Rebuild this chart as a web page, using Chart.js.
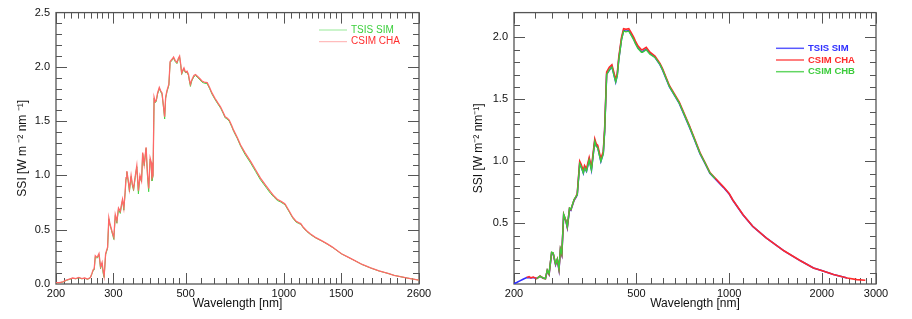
<!DOCTYPE html>
<html>
<head>
<meta charset="utf-8">
<script src="https://cdn.jsdelivr.net/npm/chart.js@4/dist/chart.umd.min.js"></script>
<style>
  body { margin: 0; background: #fff; }
  #wrap { display: flex; width: 912px; height: 319px; }
  canvas { display: block; }
</style>
</head>
<body>
<div id="wrap">
  <canvas id="leftChart" width="456" height="319"></canvas>
  <canvas id="rightChart" width="456" height="319"></canvas>
</div>
<script>
// ---- left panel data (TSIS SIM vs CSIM CHA) ----
const leftWavelength = [200, 205, 210, 215, 220, 225, 230, 235, 240, 245, 250, 255, 258, 260, 262, 264, 266, 268, 271, 274,
  277, 279, 281, 284, 288, 290.5, 293, 295, 298, 301, 304, 307.5, 311, 315, 318, 320, 323, 326, 328, 330,
  333, 336, 340, 343, 346, 350, 354, 358, 362, 366, 369, 373, 378, 382, 385, 389, 392, 394, 397, 400,
  403, 406, 410, 415, 419, 423, 427, 431, 434, 438, 444, 448, 454, 459, 464, 470, 475, 479, 483, 486,
  490, 494, 498, 501, 505, 510, 514, 517, 522, 530, 536, 545, 553, 561, 570, 582, 592, 602, 615, 627,
  640, 652, 661, 670, 680, 692, 702, 720, 737, 760, 791, 820, 848, 885, 910, 933, 955, 978, 1000, 1010,
  1040, 1065, 1089, 1110, 1127, 1150, 1175, 1208, 1250, 1306, 1360, 1410, 1503, 1570, 1647, 1740, 1848, 1960, 2089, 2180,
  2281, 2400, 2496, 2600];
const leftCha = [0.012, 0.013, 0.02, 0.035, 0.045, 0.055, 0.05, 0.06, 0.05, 0.055, 0.045, 0.06, 0.10, 0.13, 0.14, 0.26, 0.25, 0.25, 0.28, 0.16,
  0.20, 0.12, 0.07, 0.28, 0.34, 0.61, 0.55, 0.52, 0.47, 0.43, 0.64, 0.58, 0.70, 0.67, 0.74, 0.78, 0.70, 0.85, 0.98, 1.04,
  0.96, 0.87, 1.00, 0.92, 0.88, 0.99, 1.09, 0.86, 1.00, 0.95, 1.21, 1.10, 1.26, 1.00, 0.88, 1.16, 1.12, 0.975, 1.00, 1.72,
  1.68, 1.69, 1.76, 1.81, 1.78, 1.76, 1.65, 1.54, 1.72, 1.78, 1.84, 2.05, 2.07, 2.09, 2.06, 2.04, 2.08, 2.10, 2.02, 1.945,
  1.97, 1.99, 1.96, 1.955, 1.96, 1.93, 1.87, 1.84, 1.88, 1.92, 1.93, 1.91, 1.89, 1.87, 1.86, 1.855, 1.81, 1.76, 1.71, 1.67,
  1.63, 1.58, 1.54, 1.53, 1.51, 1.46, 1.415, 1.35, 1.28, 1.21, 1.13, 1.05, 0.975, 0.90, 0.85, 0.81, 0.78, 0.764, 0.745, 0.735,
  0.67, 0.615, 0.58, 0.565, 0.557, 0.52, 0.49, 0.46, 0.43, 0.40, 0.37, 0.34, 0.279, 0.25, 0.218, 0.18, 0.148, 0.12, 0.097, 0.08,
  0.067, 0.054, 0.045, 0.036];
const leftTsis = [0.012, 0.012, 0.018, 0.032, 0.043, 0.052, 0.048, 0.057, 0.048, 0.053, 0.043, 0.058, 0.095, 0.125, 0.13, 0.25, 0.24, 0.24, 0.27, 0.14,
  0.19, 0.10, 0.06, 0.27, 0.33, 0.60, 0.54, 0.51, 0.46, 0.41, 0.63, 0.56, 0.69, 0.65, 0.73, 0.77, 0.68, 0.84, 0.97, 1.03,
  0.95, 0.85, 0.99, 0.91, 0.86, 0.98, 1.08, 0.83, 0.99, 0.94, 1.20, 1.09, 1.25, 0.98, 0.85, 1.15, 1.11, 0.95, 0.99, 1.71,
  1.67, 1.68, 1.75, 1.80, 1.77, 1.75, 1.64, 1.52, 1.71, 1.77, 1.83, 2.04, 2.06, 2.08, 2.05, 2.03, 2.07, 2.09, 2.01, 1.93,
  1.96, 1.98, 1.95, 1.945, 1.95, 1.92, 1.86, 1.82, 1.87, 1.91, 1.92, 1.90, 1.88, 1.86, 1.85, 1.845, 1.80, 1.75, 1.70, 1.66,
  1.62, 1.57, 1.53, 1.52, 1.50, 1.45, 1.405, 1.34, 1.27, 1.195, 1.115, 1.035, 0.96, 0.885, 0.835, 0.80, 0.77, 0.755, 0.737, 0.727,
  0.662, 0.608, 0.572, 0.558, 0.55, 0.514, 0.485, 0.455, 0.426, 0.397, 0.367, 0.338, 0.278, 0.249, 0.217, 0.179, 0.147, 0.12, 0.097, 0.08,
  0.067, 0.054, 0.045, 0.036];
const leftXTicks = [200, 300, 500, 1000, 1500, 2600];
const leftYTicks = [0.0, 0.5, 1.0, 1.5, 2.0, 2.5];

// ---- right panel data (TSIS SIM, CSIM CHA, CSIM CHB) ----
const rightWavelength = [200, 204, 209, 214, 220, 224, 227, 231, 237, 243, 249, 253, 256.5, 260, 265, 268, 273, 276.5, 280, 283,
  286, 290, 295, 298, 303, 306, 313.5, 318, 321, 327, 330, 336, 339, 344, 351, 357, 366, 370, 374, 383,
  390, 394, 400, 408, 416, 420, 428, 433, 438, 447, 454, 462, 472, 480, 490, 496, 506, 519, 523, 538,
  553, 574, 596, 607, 640, 688, 742, 770, 804, 835, 866, 900, 958, 1000, 1028, 1110, 1193, 1319, 1507, 1705,
  1879, 1996, 2183, 2418, 2600, 2770];
const rightTsis = [0.013, 0.022, 0.035, 0.048, 0.062, 0.06, 0.058, 0.062, 0.055, 0.072, 0.056, 0.053, 0.118, 0.088, 0.26, 0.255, 0.165, 0.205, 0.125, 0.285,
  0.245, 0.565, 0.515, 0.465, 0.615, 0.605, 0.685, 0.71, 0.73, 0.985, 0.965, 0.905, 0.95, 0.92, 1.015, 0.93, 1.165, 1.125, 1.115, 1.0,
  1.065, 1.245, 1.705, 1.735, 1.765, 1.725, 1.64, 1.695, 1.825, 1.985, 2.055, 2.05, 2.055, 2.025, 1.985, 1.955, 1.915, 1.885, 1.885, 1.905,
  1.87, 1.84, 1.78, 1.74, 1.60, 1.47, 1.28, 1.18, 1.062, 0.983, 0.903, 0.86, 0.79, 0.737, 0.686, 0.567, 0.475, 0.382, 0.277, 0.197,
  0.14, 0.119, 0.087, 0.058, null, null];
const rightCha = [null, null, null, null, 0.062, 0.07, 0.06, 0.066, 0.053, 0.074, 0.057, 0.053, 0.12, 0.09, 0.264, 0.26, 0.17, 0.21, 0.13, 0.29,
  0.25, 0.57, 0.52, 0.47, 0.62, 0.61, 0.69, 0.715, 0.74, 1.0, 0.98, 0.925, 0.965, 0.94, 1.03, 0.95, 1.18, 1.14, 1.13, 1.02,
  1.08, 1.26, 1.72, 1.76, 1.78, 1.74, 1.66, 1.71, 1.84, 2.0, 2.07, 2.065, 2.07, 2.04, 2.0, 1.97, 1.93, 1.90, 1.90, 1.92,
  1.88, 1.85, 1.79, 1.75, 1.61, 1.48, 1.29, 1.19, 1.07, 0.99, 0.91, 0.865, 0.794, 0.74, 0.688, 0.569, 0.476, 0.383, 0.278, 0.198,
  0.14, 0.119, 0.087, 0.058, 0.045, 0.04];
const rightChb = [null, null, null, null, null, null, null, null, 0.052, 0.073, 0.058, 0.054, 0.122, 0.092, 0.266, 0.262, 0.172, 0.212, 0.132, 0.292,
  0.253, 0.572, 0.522, 0.472, 0.622, 0.612, 0.692, 0.717, 0.73, 0.98, 0.96, 0.905, 0.945, 0.92, 1.01, 0.93, 1.16, 1.12, 1.11, 1.0,
  1.06, 1.24, 1.70, 1.74, 1.76, 1.72, 1.64, 1.69, 1.82, 1.98, 2.05, 2.045, 2.05, 2.02, 1.98, 1.95, 1.91, 1.88, 1.88, 1.90,
  1.865, 1.838, 1.782, 1.742, 1.602, 1.472, 1.284, 1.184, 1.065, 0.986, 0.906, 0.862, null, null, null, null, null, null, null, null,
  null, null, null, null, null, null];
const rightXTicks = [200, 500, 1000, 2000, 3000];
const rightYTicks = [0.5, 1.0, 1.5, 2.0];

Chart.defaults.font.family = '"Liberation Sans", Arial, Helvetica, sans-serif';
Chart.defaults.color = '#111';

function points(xs, ys) {
  return xs.map((x, i) => ({ x: x, y: ys[i] }));
}

// frame with IDL-style inward ticks on all four sides
const frameTicks = {
  id: 'frameTicks',
  beforeDatasetsDraw(chart, args, opts) {
    const { ctx, chartArea: a, scales: { x, y } } = chart;
    ctx.save();
    ctx.strokeStyle = '#555';
    ctx.lineWidth = 1;
    const xMinor = [];
    for (let i = 0; i < opts.xMajor.length - 1; i++) {
      const lo = opts.xMajor[i], hi = opts.xMajor[i + 1];
      for (let k = 1; k < 9; k++) xMinor.push(lo + (hi - lo) * k / 9);
    }
    const yMinor = [];
    for (let v = 0.1; v < y.max; v += 0.1) yMinor.push(Math.round(v * 10) / 10);
    ctx.beginPath();
    const xt = (v, len) => {
      const p = Math.round(x.getPixelForValue(v)) + 0.5;
      ctx.moveTo(p, a.bottom); ctx.lineTo(p, a.bottom - len);
      ctx.moveTo(p, a.top); ctx.lineTo(p, a.top + len);
    };
    const yt = (v, len) => {
      const p = Math.round(y.getPixelForValue(v)) + 0.5;
      ctx.moveTo(a.left, p); ctx.lineTo(a.left + len, p);
      ctx.moveTo(a.right, p); ctx.lineTo(a.right - len, p);
    };
    opts.xMajor.forEach(v => xt(v, 11));
    xMinor.forEach(v => xt(v, 6));
    yMinor.forEach(v => {
      if (v <= y.min || v >= y.max) return;
      const major = Math.abs(v * 2 - Math.round(v * 2)) < 1e-6;
      yt(v, major ? 11 : 6);
    });
    ctx.stroke();
    ctx.lineWidth = 1.3;
    ctx.strokeRect(a.left, a.top, a.right - a.left, a.bottom - a.top);
    ctx.restore();
  }
};

const insetLegend = {
  id: 'insetLegend',
  afterDraw(chart, args, opts) {
    const ctx = chart.ctx;
    ctx.save();
    ctx.font = opts.font;
    ctx.textBaseline = 'middle';
    chart.data.datasets.forEach((ds, i) => {
      const yy = opts.y + i * opts.dy;
      ctx.strokeStyle = ds.borderColor;
      ctx.globalAlpha = opts.lineAlpha;
      ctx.lineWidth = opts.lineWidth;
      ctx.beginPath();
      ctx.moveTo(opts.x, yy);
      ctx.lineTo(opts.x + 28, yy);
      ctx.stroke();
      ctx.globalAlpha = 1;
      ctx.fillStyle = opts.textColors ? opts.textColors[i] : ds.borderColor;
      ctx.fillText(ds.label, opts.x + 32, yy);
    });
    ctx.restore();
  }
};

function axes(cfg) {
  return {
    x: {
      type: 'logarithmic', min: cfg.xMin, max: cfg.xMax,
      grid: { display: false, drawTicks: false }, border: { display: false },
      afterBuildTicks: s => { s.ticks = cfg.xTicks.map(v => ({ value: v })); },
      afterFit: s => { s.height = cfg.xHeight; },
      ticks: { autoSkip: false, maxRotation: 0, padding: 3, color: '#111', font: { size: 11 }, callback: v => String(v) },
      title: { display: true, text: 'Wavelength [nm]', color: '#111', font: { size: 12 }, padding: { top: 0, bottom: 8 } }
    },
    y: {
      type: 'linear', min: cfg.yMin, max: cfg.yMax,
      grid: { display: false, drawTicks: false }, border: { display: false },
      afterBuildTicks: s => { s.ticks = cfg.yTicks.map(v => ({ value: v })); },
      afterFit: s => { s.width = cfg.yWidth; },
      ticks: { padding: 6, color: '#111', font: { size: 11 }, callback: v => Number(v).toFixed(1) },
      title: { display: true, text: cfg.yTitle, color: '#111', font: { size: 12 }, padding: { top: 15, bottom: 0 } }
    }
  };
}

new Chart(document.getElementById('leftChart'), {
  type: 'line',
  data: {
    datasets: [
      { label: 'TSIS SIM', data: points(leftWavelength, leftTsis), borderColor: '#44d844', borderWidth: 1, pointRadius: 0, order: 2 },
      { label: 'CSIM CHA', data: points(leftWavelength, leftCha), borderColor: '#ff6868', borderWidth: 1.3, pointRadius: 0, order: 1 }
    ]
  },
  options: {
    responsive: false, animation: false, devicePixelRatio: 1,
    layout: { padding: { top: 9, right: 37, left: 0, bottom: 0 } },
    plugins: {
      legend: { display: false }, tooltip: { enabled: false },
      frameTicks: { xMajor: leftXTicks },
      insetLegend: { x: 319, y: 30, dy: 11.7, lineWidth: 1, lineAlpha: 0.55, textColors: ['#3ccf3c', '#ff2e2e'],
        font: '10px "Liberation Sans", Arial, sans-serif' }
    },
    scales: axes({ xMin: 200, xMax: 2600, xTicks: leftXTicks, xHeight: 35, yMin: 0, yMax: 2.5, yTicks: leftYTicks, yWidth: 56,
      yTitle: 'SSI [W m \u207B\u00B2 nm \u207B\u00B9]' })
  },
  plugins: [frameTicks, insetLegend]
});

new Chart(document.getElementById('rightChart'), {
  type: 'line',
  data: {
    datasets: [
      { label: 'TSIS SIM', data: points(rightWavelength, rightTsis), borderColor: '#2f2fff', borderWidth: 1.6, pointRadius: 0, order: 3 },
      { label: 'CSIM CHA', data: points(rightWavelength, rightCha), borderColor: '#ff2a2a', borderWidth: 1.6, pointRadius: 0, order: 2 },
      { label: 'CSIM CHB', data: points(rightWavelength, rightChb), borderColor: '#3ccc3c', borderWidth: 1.4, pointRadius: 0, order: 1 }
    ]
  },
  options: {
    responsive: false, animation: false, devicePixelRatio: 1,
    layout: { padding: { top: 8, right: 36, left: 0, bottom: 0 } },
    plugins: {
      legend: { display: false }, tooltip: { enabled: false },
      frameTicks: { xMajor: rightXTicks },
      insetLegend: { x: 320, y: 48.3, dy: 11.7, lineWidth: 1.5, lineAlpha: 0.8, font: 'bold 9.5px "Liberation Sans", Arial, sans-serif' }
    },
    scales: axes({ xMin: 200, xMax: 3000, xTicks: rightXTicks, xHeight: 35, yMin: 0.01, yMax: 2.2, yTicks: rightYTicks, yWidth: 58,
      yTitle: 'SSI [W m\u207B\u00B2 nm\u207B\u00B9]' })
  },
  plugins: [frameTicks, insetLegend]
});
</script>
</body>
</html>
